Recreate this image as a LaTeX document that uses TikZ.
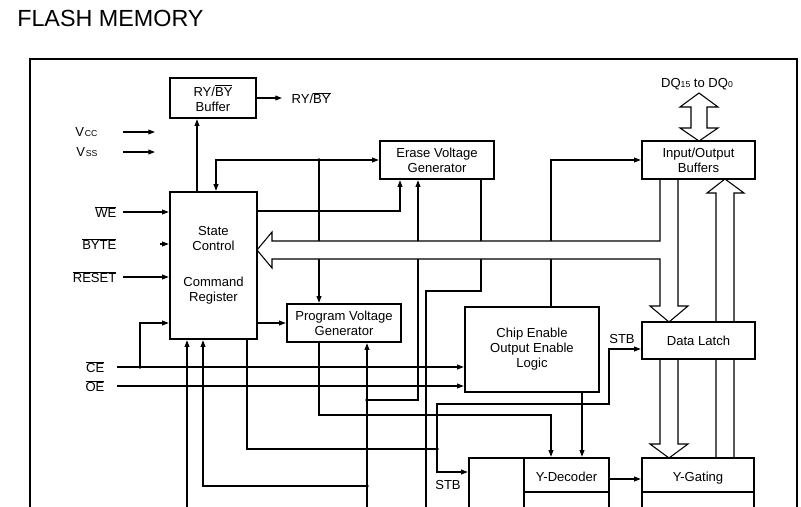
\documentclass[tikz,border=0pt]{standalone}
\usepackage{fontspec}
\setmainfont{Liberation Sans}
\usepackage{tikz}
\usetikzlibrary{arrows.meta}
\pgfdeclarelayer{wires}
\pgfsetlayers{wires,main}
\newcommand{\ovl}[1]{$\overline{\hbox{#1}}$}
\newcommand{\subt}[1]{{\fontsize{6.5}{7}\selectfont #1}}

\begin{document}
\begin{tikzpicture}[x=0.75pt, y=-0.75pt,
    wire/.style={line width=0.8pt},
    arr/.style={wire, -{Triangle[length=5pt,width=3.6pt]}},
    blk/.style={draw, line width=1.8pt, fill=white, inner sep=0pt, align=center,
                font=\fontsize{9.8}{11.3}\selectfont},
    lowtext/.style={text height=10pt, text depth=0pt},
    lbl/.style={inner sep=1pt, font=\fontsize{9.8}{11.3}\selectfont},
    bus/.style={draw, line width=0.8pt, fill=white, line join=miter}]
    \useasboundingbox (0,0) rectangle (801,507);
    \clip (0,0) rectangle (801,507);

    % === Title and frame ===
    \node[anchor=west, inner sep=0pt, font=\fontsize{17.5}{21}\selectfont] (title) at (17,18) {FLASH MEMORY};
    \draw[line width=1.5pt] (30,59) rectangle (797,560);

    % === Hollow buses ===
    \draw[bus] (660,179) -- (660,241) -- (272,241) -- (272,232) -- (257,250) -- (272,268) -- (272,259)
        -- (660,259) -- (660,306) -- (650,306) -- (669,322) -- (688,306) -- (678,306) -- (678,179);
    \draw[bus] (660,359) -- (660,444) -- (650,444) -- (669,458) -- (688,444) -- (678,444) -- (678,359);
    \draw[bus] (716,458) -- (716,193) -- (707,193) -- (725,179) -- (744,193) -- (734,193) -- (734,458);
    \draw[bus] (699,93) -- (718,107) -- (707,107) -- (707,128) -- (718,128) -- (699,141)
        -- (680,128) -- (691,128) -- (691,107) -- (680,107) -- cycle;

    % === Blocks ===
    \node[blk, minimum width=64.5pt, minimum height=30pt] (ryb) at (213,98) {RY/\ovl{BY}\\Buffer};
    \node[blk, minimum width=65.25pt, minimum height=110.25pt] (sc) at (213.5,265.5)
        {State\\Control\\[15.75pt]Command\\Register};
    \node[blk, minimum width=85.5pt, minimum height=28.5pt] (evg) at (437,160) {Erase Voltage\\Generator};
    \node[blk, minimum width=85.5pt, minimum height=28.5pt] (pvg) at (344,323) {Program Voltage\\Generator};
    \node[blk, minimum width=100.5pt, minimum height=63.75pt] (cel) at (532,349.5)
        {Chip Enable\\Output Enable\\Logic};
    \node[blk, minimum width=84.75pt, minimum height=28.5pt] (iob) at (698.5,160) {Input/Output\\Buffers};
    \node[blk, minimum width=84.75pt, minimum height=27.75pt] (dl) at (698.5,340.5) {Data Latch};
    \node[blk, minimum width=105pt, minimum height=61.5pt] (mem) at (539,499) {};
    \draw[line width=1.8pt] (524,0 |- mem.north) -- (524,0 |- mem.south);
    \node[blk, lowtext, minimum width=63.75pt, minimum height=25.5pt] (ydec) at (566.5,475) {Y-Decoder};
    \node[blk, minimum width=84pt, minimum height=61.5pt] (ygl) at (698,499) {};
    \node[blk, lowtext, minimum width=84pt, minimum height=25.5pt] (yg) at (698,475) {Y-Gating};

    % === Pin labels ===
    \node[lbl, anchor=west] (rybout) at (290,98) {RY/\ovl{BY}};
    \node[lbl, anchor=east] (vcc) at (99,132) {V\kern0.6pt\subt{CC}};
    \node[lbl, anchor=east] (vss) at (99,152) {V\kern0.6pt\subt{SS}};
    \node[lbl, anchor=east] (we) at (118,212) {\ovl{WE}};
    \node[lbl, anchor=east] (byte) at (118,244) {\ovl{BYTE}};
    \node[lbl, anchor=east] (reset) at (118,277) {\ovl{RESET}};
    \node[lbl, anchor=east] (cein) at (106,367) {\ovl{CE}};
    \node[lbl, anchor=east] (oein) at (106,386) {\ovl{OE}};
    \node[lbl] (dq) at (697,84) {DQ\raisebox{-0.5pt}{\subt{15}} to DQ\raisebox{-0.5pt}{\subt{0}}};
    \node[lbl] (stba) at (622,339) {STB};
    \node[lbl] (stbb) at (448,485) {STB};

    % junctions
    \coordinate (j1) at (319,160);
    \coordinate (j2) at (140,367);
    \coordinate (j3) at (367,400);
    \coordinate (j4) at (367,486);
    \coordinate (j5) at (437,449);
    \foreach \j in {j1,j2,j3,j4,j5}
        \fill (\j) circle (1.9);

    % === Wires ===
    \begin{pgfonlayer}{wires}
        % state control outputs
        \draw[arr] (197,0 |- sc.north) -- (197,0 |- ryb.south);
        \draw[arr, shorten >=6pt] (ryb.east) -- (ryb.east -| rybout.west);
        \draw[arr] (j1) -| (216,0 |- sc.north);
        \draw[arr] (j1) -- (evg.west);
        \draw[arr] (j1) -- (j1 |- pvg.north);
        \draw[arr] (sc.east |- 0,211) -| (400,0 |- evg.south);
        \draw[arr] (sc.east |- pvg.west) -- (pvg.west);
        % supply and control inputs
        \draw[arr] (vcc.east) ++(24,0) -- ++(32,0);
        \draw[arr] (vss.east) ++(24,0) -- ++(32,0);
        \draw[arr] (we.east) ++(5,0) -- (we.east -| sc.west);
        \draw[arr] (byte.east -| sc.west) ++(-9,0) -- (byte.east -| sc.west);
        \draw[arr] (reset.east) ++(5,0) -- (reset.east -| sc.west);
        \draw[arr] (cein.east) ++(11,0) -- (cein.east -| cel.west);
        \draw[arr] (oein.east) ++(11,0) -- (oein.east -| cel.west);
        \draw[arr] (j2) |- (sc.west |- 0,323);
        % lines coming from below
        \draw[arr] (187,560) -- (187,0 |- sc.south);
        \draw[arr] (367,560) -- (367,0 |- pvg.south);
        \draw[arr] (j3) -| (418,0 |- evg.south);
        \draw[arr] (j4) -| (203,0 |- sc.south);
        % erase voltage down to array
        \draw[wire] (481,0 |- evg.south) |- (426,291) -- (426,560);
        % program voltage to Y-decoder
        \draw[arr] (319,0 |- pvg.south) |- (551,415) -- (551,0 |- ydec.north);
        % strobe
        \draw[wire] (247,0 |- sc.south) |- (j5);
        \draw[arr] (j5) |- (mem.west |- 0,472);
        \draw[arr] (j5) |- (609,404) |- (dl.west |- 0,349);
        % chip enable logic
        \draw[arr] (551,0 |- cel.north) |- (iob.west);
        \draw[arr] (582,0 |- cel.south) -- (582,0 |- ydec.north);
        \draw[arr] (ydec.east |- 0,479) -- (yg.west |- 0,479);
    \end{pgfonlayer}
\end{tikzpicture}
\end{document}
